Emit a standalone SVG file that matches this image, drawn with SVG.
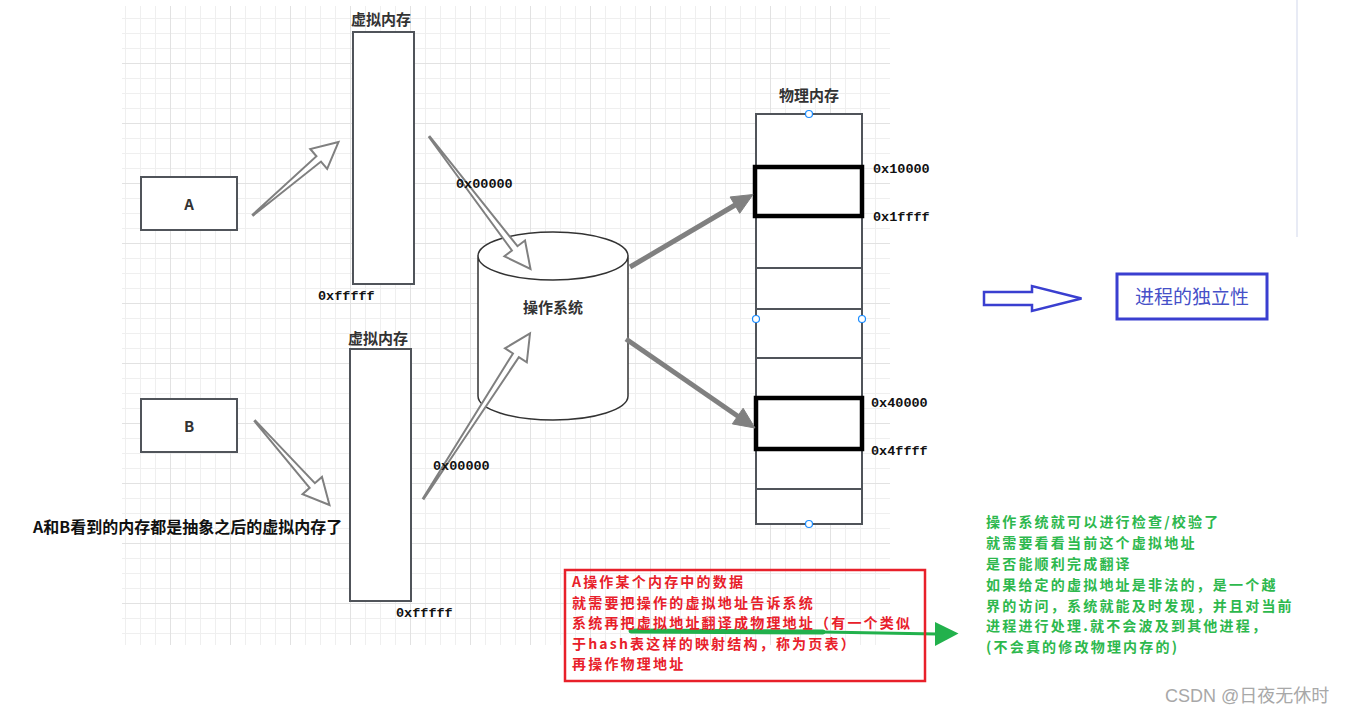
<svg xmlns="http://www.w3.org/2000/svg" width="1350" height="715" viewBox="0 0 1350 715">
<defs>
<pattern id="grid" patternUnits="userSpaceOnUse" x="110" y="3" width="60" height="60">
<path d="M15.5 0V60M30.5 0V60M45.5 0V60M0 15.5H60M0 30.5H60M0 45.5H60" stroke="#efefef" stroke-width="1" fill="none"/>
<path d="M0.5 0V60M0 0.5H60" stroke="#e2e2e2" stroke-width="1" fill="none"/>
</pattern>
<style>
.box{fill:#fff;stroke:#50545a;stroke-width:2}
.thick{fill:none;stroke:#000;stroke-width:4.5}
.lbl{font-family:"Noto Sans CJK SC","Liberation Sans",sans-serif;font-weight:bold;font-size:15px;fill:#333;text-anchor:middle}
.hex{font-family:"Liberation Mono",monospace;font-weight:bold;font-size:13.5px;fill:#111}
.hollow{fill:#fff;stroke:#808080;stroke-width:2;stroke-linejoin:miter}
.solid{stroke:#808080;stroke-width:5;fill:none}
.head{fill:#808080;stroke:#808080;stroke-width:1}
.pt{fill:#fff;stroke:#1a8cff;stroke-width:1.2}
.red{font-family:"Noto Sans CJK SC",sans-serif;font-weight:bold;font-size:14px;letter-spacing:2.2px;fill:#e8202a}
.green{font-family:"Noto Sans CJK SC",sans-serif;font-weight:bold;font-size:14px;letter-spacing:2.2px;fill:#2db84d}
</style>
</defs>
<rect width="1350" height="715" fill="#fff"/>
<rect x="122" y="6" width="768" height="639" fill="url(#grid)"/>
<line x1="1297" y1="0" x2="1297" y2="237" stroke="#e8ebf5" stroke-width="2"/>

<g id="nodeA"><rect class="box" x="141" y="177" width="96" height="53"/><text class="lbl" x="189" y="210">A</text></g>
<g id="nodeB"><rect class="box" x="141" y="399" width="96" height="53"/><text class="lbl" x="189" y="432">B</text></g>

<g id="vm1"><text class="lbl" x="381" y="25">虚拟内存</text><rect class="box" x="353" y="32" width="61" height="252"/>
<text class="hex" x="318" y="300">0xfffff</text></g>
<g id="vm2"><text class="lbl" x="378" y="344">虚拟内存</text><rect class="box" x="350" y="349" width="61" height="252"/>
<text class="hex" x="396" y="617">0xfffff</text></g>

<g id="os"><path d="M478 256V396A75 24 0 0 0 628 396V256A75 24 0 0 0 478 256A75 24 0 0 0 628 256" fill="#fff" stroke="#333" stroke-width="1.5"/>
<text class="lbl" x="553" y="313">操作系统</text></g>

<g id="phys">
<text class="lbl" x="809" y="101">物理内存</text>
<rect class="box" x="756" y="114" width="106" height="410"/>
<path d="M756 268H862M756 309H862M756 358H862M756 489H862" stroke="#50545a" stroke-width="2"/>
<rect class="thick" x="755" y="167" width="107" height="49"/>
<rect class="thick" x="756" y="398" width="106" height="51"/>
<circle class="pt" cx="809" cy="114" r="3.5"/><circle class="pt" cx="756" cy="319" r="3.5"/><circle class="pt" cx="862" cy="319" r="3.5"/><circle class="pt" cx="809" cy="524" r="3.5"/>
<text class="hex" x="873" y="173">0x10000</text>
<text class="hex" x="873" y="221">0x1ffff</text>
<text class="hex" x="871" y="407">0x40000</text>
<text class="hex" x="871" y="455">0x4ffff</text>
</g>

<g id="connectors">
<polygon class="hollow" points="253.32,215.38 320.99,161.55 327.16,168.78 338.5,142 310.28,149 316.45,156.23 252.68,214.62"/>
<polygon class="hollow" points="429.9,136.7 517.48,246.22 525.02,240.45 530.5,269 504.38,256.25 511.92,250.48 429.1,137.3"/>
<polygon class="hollow" points="255.37,420.67 314.87,483.23 321.97,476.93 329.5,505 302.53,494.17 309.63,487.87 254.63,421.33"/>
<polygon class="hollow" points="423.92,498.77 518.84,357.24 526.82,362.39 530,333.5 504.98,348.29 512.96,353.44 423.08,498.23"/>
<line class="solid" x1="630" y1="267" x2="736" y2="204.5"/>
<polygon class="head" points="739.73,213.34 753,194.5 730.09,196.98"/>
<line class="solid" x1="626" y1="339" x2="739" y2="417"/>
<polygon class="head" points="732.31,423.89 755,428 743.11,408.25"/>
<polygon points="984,292 1032,292 1032,286 1081.5,298.5 1032,311 1032,305 984,305" fill="#fff" stroke="#3a3fd0" stroke-width="2.5"/>
<line x1="631" y1="631" x2="823" y2="632" stroke="#22b14c" stroke-width="5" stroke-linecap="round"/>
<line x1="823" y1="632" x2="937" y2="634" stroke="#22b14c" stroke-width="3"/>
<polygon points="935,622 958.5,633.5 935,646" fill="#22b14c"/>
</g>

<g id="labels">
<text class="hex" x="456" y="188">0x00000</text>
<text class="hex" x="433" y="470">0x00000</text>
<text x="33" y="533" font-family="Noto Sans CJK SC,sans-serif" font-weight="bold" font-size="16" fill="#111">A和B看到的内存都是抽象之后的虚拟内存了</text>
</g>

<g id="independence">
<rect x="1117" y="274" width="150" height="45" fill="#fff" stroke="#3a3fd0" stroke-width="3"/>
<text x="1192" y="304" text-anchor="middle" font-family="Noto Sans CJK SC,sans-serif" font-size="19" fill="#4650c8">进程的独立性</text>
</g>

<g id="redNote">
<rect x="565" y="570" width="360" height="111" fill="none" stroke="#e8202a" stroke-width="2.5"/>
<text class="red" x="572" y="587">A操作某个内存中的数据</text>
<text class="red" x="572" y="607.5">就需要把操作的虚拟地址告诉系统</text>
<text class="red" x="572" y="628">系统再把虚拟地址翻译成物理地址（有一个类似</text>
<text class="red" x="572" y="648.5">于hash表这样的映射结构，称为页表）</text>
<text class="red" x="572" y="669">再操作物理地址</text>
</g>

<g id="greenNote">
<text class="green" x="986" y="527">操作系统就可以进行检查/校验了</text>
<text class="green" x="986" y="548">就需要看看当前这个虚拟地址</text>
<text class="green" x="986" y="569">是否能顺利完成翻译</text>
<text class="green" x="986" y="590">如果给定的虚拟地址是非法的，是一个越</text>
<text class="green" x="986" y="611">界的访问，系统就能及时发现，并且对当前</text>
<text class="green" x="986" y="631">进程进行处理.就不会波及到其他进程，</text>
<text class="green" x="986" y="652">(不会真的修改物理内存的)</text>
</g>

<text x="1165" y="702" font-family="Liberation Sans,Noto Sans CJK SC,sans-serif" font-size="18" fill="#a8a8a8">CSDN @日夜无休时</text>
</svg>
